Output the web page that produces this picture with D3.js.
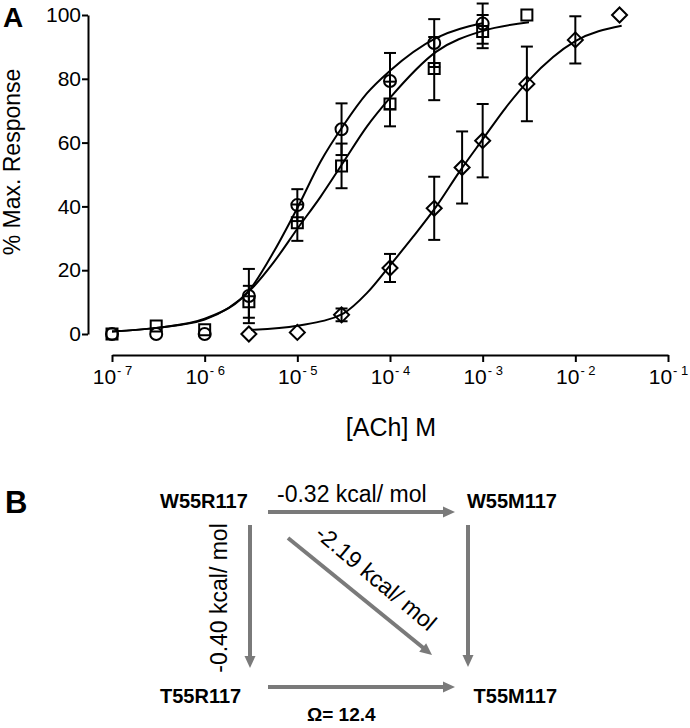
<!DOCTYPE html>
<html><head><meta charset="utf-8">
<script src="https://cdn.jsdelivr.net/npm/d3@7"></script>
<style>
body{margin:0;background:#fff}
svg{display:block}
text{font-family:"Liberation Sans",Arial,Helvetica,sans-serif}
</style>
</head><body>
<svg id="chart" width="690" height="728"></svg>
<script>
// ---------- Panel A data ----------
const circleConc = [1e-7, 3e-7, 1e-6, 3e-6, 1e-5, 3e-5, 1e-4, 3e-4, 1e-3];
const circleResp = [0, 0, 0, 11.9, 40.4, 64.2, 79.3, 91.2, 97.3];
const circleErr  = [0, 0, 0, 8.5, 5, 8.1, 8.8, 7.5, 6.3];

const squareConc = [1e-7, 3e-7, 1e-6, 3e-6, 1e-5, 3e-5, 1e-4, 3e-4, 1e-3, 3e-3];
const squareResp = [0, 2.5, 1.3, 10.1, 34.9, 52.7, 72.1, 83.2, 94.8, 100];
const squareErr  = [0, 0, 0, 5, 5.7, 7, 7, 9.9, 5.2, 0];

const diamondConc = [3e-6, 1e-5, 3e-5, 1e-4, 3e-4, 6e-4, 1e-3, 3e-3, 1e-2, 3e-2];
const diamondResp = [0, 0.5, 6, 20.7, 39.4, 52.2, 60.6, 78.4, 92.2, 100];
const diamondErr  = [0, 0, 2, 4.4, 9.9, 11.3, 11.5, 11.7, 7.4, 0];

// fitted curves (log10 concentration, % response)
const circleFitLog = [-7, -6.5, -6, -5.5, -5.25, -5, -4.75, -4.5, -4.25, -4, -3.5, -3];
const circleFitResp = [0.8, 2.0, 4.8, 14.4, 26, 39.5, 54, 65.5, 75.4, 82.5, 92.8, 97.4];
const squareFitLog = [-7, -6.5, -6, -5.5, -5.25, -5, -4.75, -4.5, -4.25, -4, -3.5, -3, -2.5];
const squareFitResp = [0.8, 2.0, 4.5, 14, 22.7, 33, 43, 54, 65, 74, 88.5, 95, 97.7];
const diamondFitLog = [-5.5, -5, -4.5, -4.25, -4, -3.75, -3.5, -3.25, -3, -2.75, -2.5, -2, -1.5];
const diamondFitResp = [1.3, 2.6, 6.5, 12.8, 21.5, 30.5, 40, 50.9, 61, 71, 79.6, 91.8, 96.6];

const xTickExp = [-7, -6, -5, -4, -3, -2, -1];
const yTicks = [0, 20, 40, 60, 80, 100];
const xTitle = "[ACh] M";
const yTitle = "% Max. Response";

// ---------- Panel B data ----------
const nodeNames = ["W55R117", "W55M117", "T55R117", "T55M117"];
const edgeLabels = ["-0.32 kcal/ mol", "-0.40 kcal/ mol", "-2.19 kcal/ mol"];
const omegaLabel = "\u03A9= 12.4";

// ---------- drawing ----------
const svg = d3.select("#chart");
const x = d3.scaleLog().domain([1e-7, 1e-1]).range([112, 668]);
const y = d3.scaleLinear().domain([0, 100]).range([334, 15]);

// panel label
svg.append("text").attr("x", 3).attr("y", 27).attr("font-size", 28).attr("font-weight", "bold").text("A");

// y axis
const gy = svg.append("g").attr("transform", "translate(88,0)")
  .call(d3.axisLeft(y).tickValues(yTicks).tickSize(6).tickSizeOuter(0).tickPadding(1));
gy.attr("font-family", null).attr("font-size", 21);
gy.selectAll("text").attr("fill", "#000");
gy.selectAll("path,line").attr("stroke", "#000").attr("stroke-width", 2);

// x axis
const gx = svg.append("g").attr("transform", "translate(0,355)")
  .call(d3.axisBottom(x).tickValues(xTickExp.map(e => Math.pow(10, e))).tickSize(7).tickSizeOuter(0).tickFormat(""));
gx.attr("font-family", null).attr("font-size", 21);
gx.selectAll("path,line").attr("stroke", "#000").attr("stroke-width", 2);
gx.selectAll(".tick text").each(function(d, i) {
  const t = d3.select(this).attr("y", 29).attr("dy", null).attr("fill", "#000").text(null);
  t.append("tspan").text("10");
  t.append("tspan").attr("font-size", 13).attr("dy", -9).attr("dx", 1).text("- " + Math.abs(xTickExp[i]));
});

// axis titles
svg.append("text").attr("x", 391).attr("y", 436).attr("text-anchor", "middle").attr("font-size", 25).text(xTitle);
svg.append("text").attr("transform", "translate(20,162) rotate(-90)").attr("text-anchor", "middle").attr("font-size", 23).text(yTitle);

// curves
const line = d3.line().x(d => x(Math.pow(10, d[0]))).y(d => y(d[1])).curve(d3.curveMonotoneX);
const fits = [
  d3.zip(circleFitLog, circleFitResp),
  d3.zip(squareFitLog, squareFitResp),
  d3.zip(diamondFitLog, diamondFitResp)
];
svg.append("g").selectAll("path").data(fits).join("path")
  .attr("d", line).attr("fill", "none").attr("stroke", "#000").attr("stroke-width", 2);

// series
const series = [
  {shape: "circle", conc: circleConc, resp: circleResp, err: circleErr},
  {shape: "square", conc: squareConc, resp: squareResp, err: squareErr},
  {shape: "diamond", conc: diamondConc, resp: diamondResp, err: diamondErr}
];
const capW = 6;
series.forEach(s => {
  const pts = s.conc.map((c, i) => ({c, v: s.resp[i], e: s.err[i]}));
  const g = svg.append("g");
  const eb = g.selectAll("g.eb").data(pts.filter(p => p.e > 0)).join("g").attr("stroke", "#000").attr("stroke-width", 2);
  eb.append("line").attr("x1", p => x(p.c)).attr("x2", p => x(p.c)).attr("y1", p => y(p.v - p.e)).attr("y2", p => y(p.v + p.e));
  eb.append("line").attr("x1", p => x(p.c) - capW).attr("x2", p => x(p.c) + capW).attr("y1", p => y(p.v + p.e)).attr("y2", p => y(p.v + p.e));
  eb.append("line").attr("x1", p => x(p.c) - capW).attr("x2", p => x(p.c) + capW).attr("y1", p => y(p.v - p.e)).attr("y2", p => y(p.v - p.e));
  const m = g.selectAll("path.m").data(pts).join("path").attr("fill", "none").attr("stroke", "#000").attr("stroke-width", 2)
    .attr("transform", p => `translate(${x(p.c)},${y(p.v)})`);
  if (s.shape === "circle") m.attr("d", d3.symbol(d3.symbolCircle, Math.PI * 36));
  if (s.shape === "square") m.attr("d", "M-5.5,-5.5H5.5V5.5H-5.5Z");
  if (s.shape === "diamond") m.attr("d", "M0,-7.5L7.5,0L0,7.5L-7.5,0Z");
});

// ---------- Panel B ----------
svg.append("text").attr("x", 5).attr("y", 513).attr("font-size", 31).attr("font-weight", "bold").text("B");

const nodePos = [
  {x: 160, y: 508, anchor: "start"},
  {x: 557, y: 508, anchor: "end"},
  {x: 160, y: 703, anchor: "start"},
  {x: 557, y: 703, anchor: "end"}
];
svg.append("g").selectAll("text").data(nodeNames).join("text")
  .attr("x", (d, i) => nodePos[i].x).attr("y", (d, i) => nodePos[i].y)
  .attr("text-anchor", (d, i) => nodePos[i].anchor)
  .attr("font-size", 20).attr("font-weight", "bold").text(d => d);

const arrowColor = "#7a7a7a";
const arrows = [
  [268, 512, 455, 512],
  [250, 525, 250, 668],
  [468, 525, 468, 667],
  [288, 538, 432, 655],
  [268, 687, 455, 687]
];
const ag = svg.append("g");
arrows.forEach(([x1, y1, x2, y2]) => {
  const dx = x2 - x1, dy = y2 - y1, L = Math.hypot(dx, dy), ux = dx / L, uy = dy / L;
  const hl = 12, hw = 5.5;
  const bx = x2 - ux * hl, by = y2 - uy * hl;
  ag.append("line").attr("x1", x1).attr("y1", y1).attr("x2", bx + ux).attr("y2", by + uy)
    .attr("stroke", arrowColor).attr("stroke-width", 4);
  ag.append("path").attr("d", `M${x2},${y2}L${bx - uy * hw},${by + ux * hw}L${bx + uy * hw},${by - ux * hw}Z`)
    .attr("fill", arrowColor);
});

svg.append("text").attr("x", 277).attr("y", 502).attr("font-size", 23).text(edgeLabels[0]);
svg.append("text").attr("transform", "translate(227,598) rotate(-90)").attr("text-anchor", "middle").attr("font-size", 23).text(edgeLabels[1]);
svg.append("text").attr("transform", "translate(371,584) rotate(40)").attr("text-anchor", "middle").attr("font-size", 23).text(edgeLabels[2]);
svg.append("text").attr("x", 307).attr("y", 721).attr("font-size", 19).attr("font-weight", "bold").text(omegaLabel);
</script>
</body></html>
